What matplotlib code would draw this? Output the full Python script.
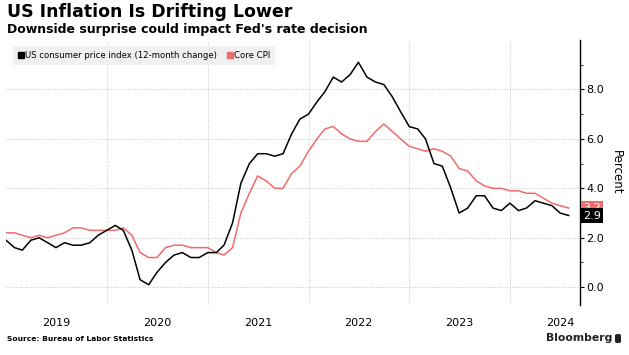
import numpy as np
import pandas as pd
import matplotlib
matplotlib.use('Agg')
import matplotlib.pyplot as plt
import matplotlib.dates as mdates
from matplotlib.lines import Line2D
from matplotlib.patches import FancyBboxPatch
from matplotlib.ticker import MultipleLocator, FixedLocator

# monthly readings, Dec 2018 .. Jul 2024 (plotted at month end)
months = pd.date_range('2018-12-31', '2024-07-31', freq='ME')
cpi = [1.9,
       1.6, 1.5, 1.9, 2.0, 1.8, 1.6, 1.8, 1.7, 1.7, 1.8, 2.1, 2.3,
       2.5, 2.3, 1.5, 0.3, 0.1, 0.6, 1.0, 1.3, 1.4, 1.2, 1.2, 1.4,
       1.4, 1.7, 2.6, 4.2, 5.0, 5.4, 5.4, 5.3, 5.4, 6.2, 6.8, 7.0,
       7.5, 7.9, 8.5, 8.3, 8.6, 9.1, 8.5, 8.3, 8.2, 7.7, 7.1, 6.5,
       6.4, 6.0, 5.0, 4.9, 4.0, 3.0, 3.2, 3.7, 3.7, 3.2, 3.1, 3.4,
       3.1, 3.2, 3.5, 3.4, 3.3, 3.0, 2.9]
core = [2.2,
        2.2, 2.1, 2.0, 2.1, 2.0, 2.1, 2.2, 2.4, 2.4, 2.3, 2.3, 2.3,
        2.3, 2.4, 2.1, 1.4, 1.2, 1.2, 1.6, 1.7, 1.7, 1.6, 1.6, 1.6,
        1.4, 1.3, 1.6, 3.0, 3.8, 4.5, 4.3, 4.0, 4.0, 4.6, 4.9, 5.5,
        6.0, 6.4, 6.5, 6.2, 6.0, 5.9, 5.9, 6.3, 6.6, 6.3, 6.0, 5.7,
        5.6, 5.5, 5.6, 5.5, 5.3, 4.8, 4.7, 4.3, 4.1, 4.0, 4.0, 3.9,
        3.9, 3.8, 3.8, 3.6, 3.4, 3.3, 3.2]
years = [2019, 2020, 2021, 2022, 2023, 2024]
yticks = [0, 2, 4, 6, 8]
cpi_name = 'US consumer price index (12-month change)'
core_name = 'Core CPI'

black = '#000000'
red = '#f06b6b'

fig = plt.figure(figsize=(6.29, 3.55), dpi=100)
ax = fig.add_axes([6 / 629, 50 / 355, 574 / 629, 265 / 355])

ax.plot(months, core, color=red, lw=1.1, zorder=3)
ax.plot(months, cpi, color=black, lw=1.1, zorder=4)

ax.set_xlim(pd.Timestamp('2018-12-31'), pd.Timestamp('2024-09-10'))
ax.set_ylim(-0.72, 10.0)

# year gridlines at Jan 1, labels centred mid-year
ax.set_xticks([pd.Timestamp(f'{y}-01-01') for y in years[1:]])
ax.set_xticklabels([])
ax.set_xticks([pd.Timestamp(f'{y}-07-01') for y in years], minor=True)
ax.set_xticklabels([str(y) for y in years], minor=True, fontsize=8)
ax.tick_params(axis='x', which='both', length=0, pad=9)

ax.yaxis.tick_right()
ax.yaxis.set_label_position('right')
ax.yaxis.set_major_locator(FixedLocator(yticks))
ax.yaxis.set_minor_locator(FixedLocator([-1, 1, 3, 5, 7, 9]))
ax.yaxis.set_major_formatter(lambda v, p: f'{v:.1f}')
ax.tick_params(axis='y', which='major', length=3, width=0.8, pad=1.5, labelsize=8)
ax.tick_params(axis='y', which='minor', length=2, width=0.6)
ax.set_ylabel('Percent', rotation=270, fontsize=8.5, va='center')
ax.yaxis.set_label_coords(1.063, 0.5)

ax.grid(True, which='major', color='#c8c8c8', lw=0.7, ls=(0, (1, 1.5)))
for side in ['top', 'left', 'bottom']:
    ax.spines[side].set_visible(False)
ax.spines['right'].set_linewidth(1.0)

# value tags on the right axis
for val, col in [(core[-1], red), (cpi[-1], black)]:
    ax.annotate(f'{val:.1f}', xy=(1, val), xycoords=('axes fraction', 'data'),
                xytext=(2, 0), textcoords='offset points', va='center', ha='left',
                fontsize=8, color='white',
                bbox=dict(boxstyle='square,pad=0.2', fc=col, ec='none'),
                annotation_clip=False, zorder=6)

handles = [Line2D([], [], marker='s', ls='none', color=black, markersize=5),
           Line2D([], [], marker='s', ls='none', color=red, markersize=5)]
leg = ax.legend(handles, [cpi_name, core_name], loc='upper left', ncol=2,
                fontsize=6.1, frameon=True, fancybox=False, handlelength=0.6,
                handletextpad=0.2, columnspacing=1.2, borderpad=0.6,
                bbox_to_anchor=(0.005, 0.995))
leg.get_frame().set_facecolor('#f0f0f0')
leg.get_frame().set_edgecolor('none')
leg.get_frame().set_alpha(1)

fig.text(7 / 629, 1 - 12 / 355, 'US Inflation Is Drifting Lower',
         fontsize=12.5, fontweight='bold', va='center', ha='left')
fig.text(7 / 629, 1 - 29 / 355, "Downside surprise could impact Fed's rate decision",
         fontsize=9.0, fontweight='bold', va='center', ha='left')
fig.text(7 / 629, 1 - 339 / 355, 'Source: Bureau of Labor Statistics',
         fontsize=5.4, fontweight='bold', va='center', ha='left')
fig.text(612 / 629, 1 - 338 / 355, 'Bloomberg',
         fontsize=7.8, fontweight='bold', va='center', ha='right', color='#222222')
fig.patches.append(FancyBboxPatch((615 / 629, 1 - 343 / 355), 6 / 629, 9 / 355,
                                  boxstyle='round,pad=0,rounding_size=0.004',
                                  transform=fig.transFigure, fc='#222222', ec='none'))

fig.savefig('out.png', dpi=100, facecolor='white')
